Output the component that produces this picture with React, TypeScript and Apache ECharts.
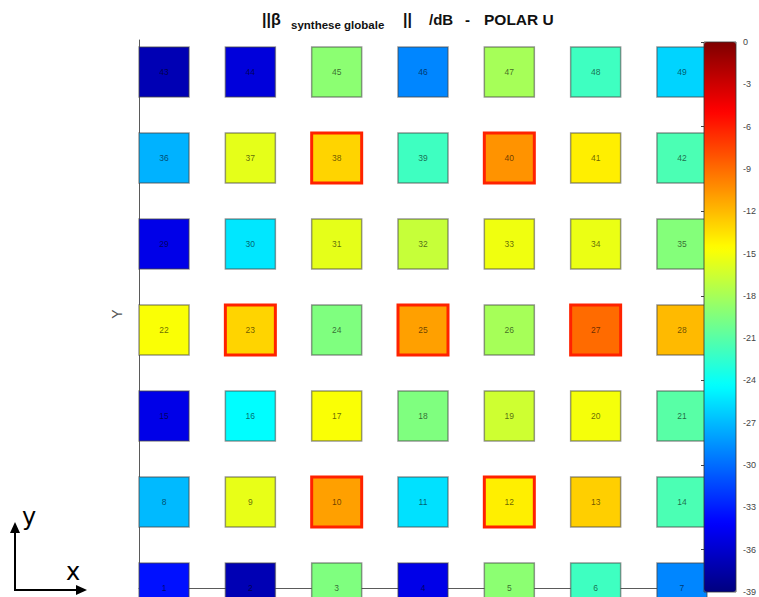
import React, { useEffect, useRef } from "react";
import * as echarts from "echarts";

// Element numbers 1..49, laid out 7 per row from the bottom-left
const elementIds = Array.from({ length: 49 }, (_, i) => i + 1);
// |beta synthese globale| in dB, per element (1..49)
const levels = [
  -33.5, -37, -19.5, -35, -19, -22, -29,
  -27, -15.5, -11, -25.5, -14, -12.8, -21.5,
  -35, -24.4, -14.8, -19.5, -16.5, -15, -21,
  -14.8, -13, -19.5, -11, -18, -9, -12,
  -35, -25.3, -15.6, -16.8, -15.2, -15.4, -19.3,
  -27.3, -15.6, -13, -22, -10.5, -14, -21.5,
  -37, -35.5, -19, -29, -18, -22, -26,
];
// elements outlined in red
const highlighted = [10, 12, 23, 25, 27, 38, 40];
const perRow = 7;
// colour bar range and ticks
const cbMin = -39;
const cbMax = 0;
const cbStep = 3;
const jet = ["#00007f", "#0000ff", "#007fff", "#00ffff", "#7fff7f", "#ffff00", "#ff7f00", "#ff0000", "#7f0000"];

export default function App() {
  const ref = useRef<HTMLDivElement>(null);
  useEffect(() => {
    if (!ref.current) return;
    const chart = echarts.init(ref.current, null, { renderer: "svg" });
    const data = elementIds.map((id, i) => {
      const hi = highlighted.includes(id);
      return {
        value: [i % perRow, Math.floor(i / perRow), levels[i], id],
        itemStyle: hi
          ? { borderColor: "#ff2200", borderWidth: 3, opacity: 1 }
          : { borderColor: "rgba(70,70,70,0.55)", borderWidth: 1.5, opacity: 1 },
      };
    });
    const titleBase = { fontFamily: "Arial, Liberation Sans", fontWeight: "bold", fill: "#111", verticalAlign: "middle" };
    chart.setOption({
      animation: false,
      grid: [
        { left: 139, top: 40, width: 568, height: 548 },
        { left: 704, top: 42, width: 32, height: 550, show: false },
      ],
      xAxis: [
        {
          type: "value", gridIndex: 0, min: -0.29, max: 6.29,
          axisLine: { show: true, onZero: false, lineStyle: { color: "#5a5a5a", width: 1 } },
          axisTick: { show: false }, axisLabel: { show: false }, splitLine: { show: false },
        },
        { type: "value", gridIndex: 1, show: false, min: 0, max: 1 },
      ],
      yAxis: [
        {
          type: "value", gridIndex: 0, min: 0, max: 6.372,
          name: "Y", nameLocation: "middle", nameGap: 15, nameRotate: 90,
          nameTextStyle: { color: "#555", fontSize: 14, fontFamily: "Arial" },
          axisLine: { show: true, onZero: false, lineStyle: { color: "#5a5a5a", width: 1 } },
          axisTick: { show: false }, axisLabel: { show: false }, splitLine: { show: false },
        },
        {
          type: "value", gridIndex: 1, min: cbMin, max: cbMax, interval: cbStep, position: "right",
          axisLine: { show: false },
          axisTick: { show: true, inside: true, length: 3, lineStyle: { color: "#444" } },
          axisLabel: { margin: 9, fontSize: 9, color: "#444", fontFamily: "Arial" },
          splitLine: { show: false },
        },
      ],
      visualMap: {
        type: "continuous", min: cbMin, max: cbMax, dimension: 2, seriesIndex: 0,
        left: 704, top: 42, itemWidth: 32, itemHeight: 550, padding: 0,
        calculable: false, text: null, showLabel: false,
        inRange: { color: jet },
      },
      series: [
        {
          type: "scatter", xAxisIndex: 0, yAxisIndex: 0,
          symbol: "rect", symbolSize: 50,
          itemStyle: { opacity: 1 },
          data,
          label: {
            show: true, position: "inside",
            formatter: (p: any) => String(p.value[3]),
            fontSize: 8.5, color: "rgba(0,0,0,0.6)", fontFamily: "Arial",
          },
        },
      ],
      graphic: [
        { type: "rect", shape: { x: 704, y: 42, width: 32, height: 550 }, style: { fill: "none", stroke: "#333", lineWidth: 0.8 }, z: 100 },
        { type: "text", x: 262, y: 19, style: { ...titleBase, text: "||β", fontSize: 16 } },
        { type: "text", x: 291, y: 25, style: { ...titleBase, text: "synthese globale", fontSize: 11.5 } },
        { type: "text", x: 403, y: 19, style: { ...titleBase, text: "||", fontSize: 16 } },
        { type: "text", x: 429, y: 19, style: { ...titleBase, text: "/dB", fontSize: 15 } },
        { type: "text", x: 465, y: 19, style: { ...titleBase, text: "-", fontSize: 15 } },
        { type: "text", x: 484, y: 19, style: { ...titleBase, text: "POLAR U", fontSize: 15.5 } },
        // orientation icon
        { type: "line", shape: { x1: 15, y1: 590, x2: 15, y2: 530 }, style: { stroke: "#000", lineWidth: 2 } },
        { type: "line", shape: { x1: 14, y1: 590, x2: 78, y2: 590 }, style: { stroke: "#000", lineWidth: 2 } },
        { type: "polygon", shape: { points: [[15, 522], [10, 533], [20, 533]] }, style: { fill: "#000" } },
        { type: "polygon", shape: { points: [[87, 590], [76, 585], [76, 595]] }, style: { fill: "#000" } },
        { type: "text", x: 22, y: 517, style: { text: "y", fontSize: 24, fontFamily: "DejaVu Sans", fill: "#000", verticalAlign: "middle" } },
        { type: "text", x: 66, y: 572, style: { text: "x", fontSize: 24, fontFamily: "DejaVu Sans", fill: "#000", verticalAlign: "middle" } },
      ],
    });
    return () => chart.dispose();
  }, []);
  return <div ref={ref} style={{ position: "fixed", left: 0, top: 0, width: 759, height: 597, background: "#fff" }} />;
}
